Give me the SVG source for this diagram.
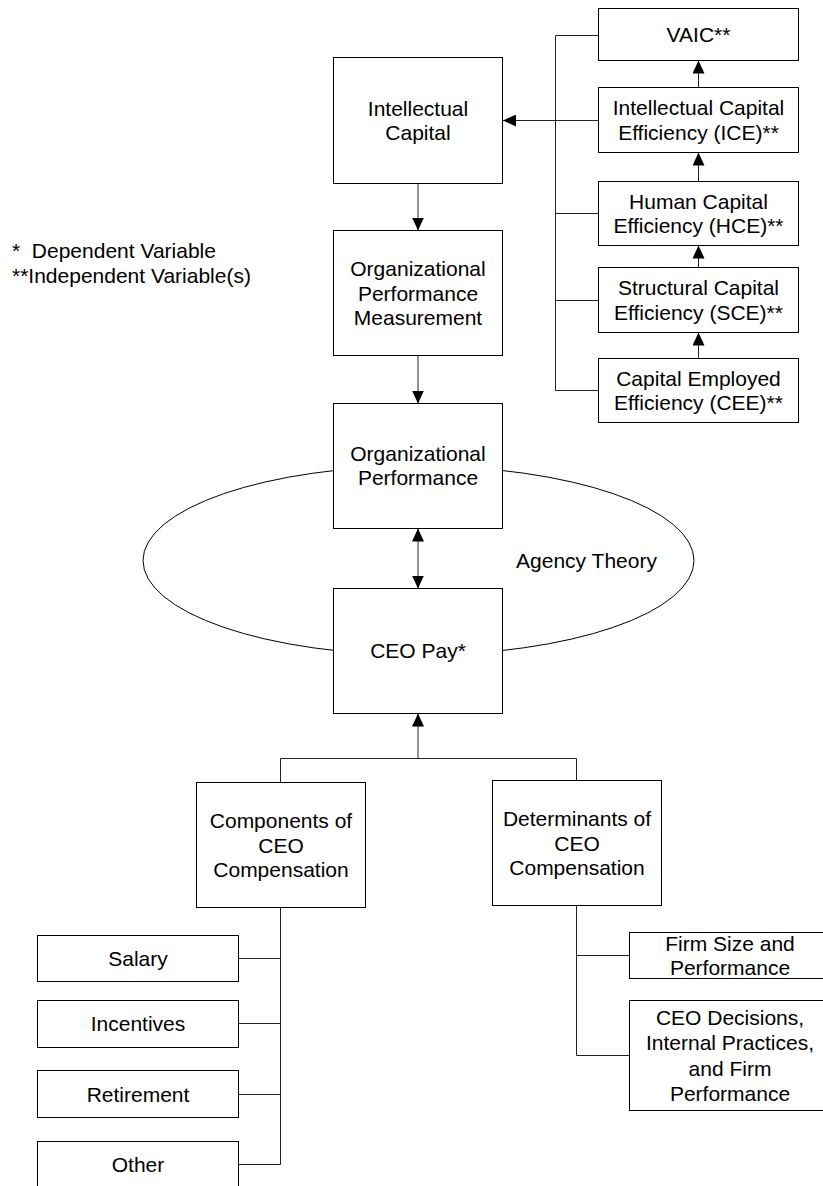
<svg xmlns="http://www.w3.org/2000/svg" width="823" height="1186" viewBox="0 0 823 1186">
<style>
.box{fill:#fff;stroke:#000;stroke-width:1}
.lbl{font-family:"Liberation Sans",Arial,sans-serif;font-size:21px;fill:#000;text-anchor:middle}
.leg{font-family:"Liberation Sans",Arial,sans-serif;font-size:21px;fill:#000;white-space:pre}
.conn{fill:none;stroke:#222;stroke-width:1}
</style>
<defs>
<marker id="arr" viewBox="0 0 13 12" refX="13" refY="6" markerWidth="13" markerHeight="12" markerUnits="userSpaceOnUse" orient="auto-start-reverse">
<path d="M0,0 L13,6 L0,12 z" fill="#000"/>
</marker>
</defs>
<rect width="823" height="1186" fill="#fff"/>

<g id="legend">
<text class="leg" x="12" y="258" xml:space="preserve">*  Dependent Variable</text>
<text class="leg" x="12" y="282.5">**Independent Variable(s)</text>
</g>

<g id="agency-theory">
<ellipse cx="418.5" cy="560.5" rx="275.5" ry="94.5" fill="none" stroke="#000" stroke-width="1"/>
<text class="lbl" x="586.5" y="567.5">Agency Theory</text>
</g>

<g id="connectors">
<path class="conn" d="M598.5,35.5 H555.5 V390.5 H598.5"/>
<path class="conn" d="M555.5,213.5 H598.5"/>
<path class="conn" d="M555.5,300.5 H598.5"/>
<path class="conn" d="M598.5,120.5 H503" marker-end="url(#arr)"/>
<path class="conn" d="M698.5,87.5 V60.5" marker-end="url(#arr)"/>
<path class="conn" d="M698.5,181.5 V152.5" marker-end="url(#arr)"/>
<path class="conn" d="M698.5,267.5 V245.5" marker-end="url(#arr)"/>
<path class="conn" d="M698.5,358.5 V332.5" marker-end="url(#arr)"/>
<path class="conn" d="M418,183.5 V230.5" marker-end="url(#arr)"/>
<path class="conn" d="M418,355.5 V403.5" marker-end="url(#arr)"/>
<path class="conn" d="M418,528.5 V588.5" marker-start="url(#arr)" marker-end="url(#arr)"/>
<path class="conn" d="M418,758.5 V713.5" marker-end="url(#arr)"/>
<path class="conn" d="M280.5,782.5 V758.5 H576.5 V780.5"/>
<path class="conn" d="M280.5,907.5 V1164.5"/>
<path class="conn" d="M238.5,958.5 H280.5"/>
<path class="conn" d="M238.5,1023.5 H280.5"/>
<path class="conn" d="M238.5,1094.5 H280.5"/>
<path class="conn" d="M238.5,1164.5 H280.5"/>
<path class="conn" d="M576.5,905.5 V1055.5 H629.5"/>
<path class="conn" d="M576.5,955.5 H629.5"/>
</g>

<g id="vaic">
<rect class="box" x="598.5" y="8.5" width="200" height="52"/>
<text class="lbl" x="698.5" y="42">VAIC**</text>
</g>
<g id="ice">
<rect class="box" x="598.5" y="87.5" width="200" height="65"/>
<text class="lbl" x="698.5" y="115">Intellectual Capital</text>
<text class="lbl" x="698.5" y="139.5">Efficiency (ICE)**</text>
</g>
<g id="hce">
<rect class="box" x="598.5" y="181.5" width="200" height="64"/>
<text class="lbl" x="698.5" y="208.5">Human Capital</text>
<text class="lbl" x="698.5" y="233">Efficiency (HCE)**</text>
</g>
<g id="sce">
<rect class="box" x="598.5" y="267.5" width="200" height="65"/>
<text class="lbl" x="698.5" y="295">Structural Capital</text>
<text class="lbl" x="698.5" y="319.5">Efficiency (SCE)**</text>
</g>
<g id="cee">
<rect class="box" x="598.5" y="358.5" width="200" height="64"/>
<text class="lbl" x="698.5" y="385.5">Capital Employed</text>
<text class="lbl" x="698.5" y="410">Efficiency (CEE)**</text>
</g>

<g id="intellectual-capital">
<rect class="box" x="333.5" y="57.5" width="169" height="126"/>
<text class="lbl" x="418" y="115.5">Intellectual</text>
<text class="lbl" x="418" y="140">Capital</text>
</g>
<g id="org-perf-measurement">
<rect class="box" x="333.5" y="230.5" width="169" height="125"/>
<text class="lbl" x="418" y="276.2">Organizational</text>
<text class="lbl" x="418" y="300.7">Performance</text>
<text class="lbl" x="418" y="325.2">Measurement</text>
</g>
<g id="org-performance">
<rect class="box" x="333.5" y="403.5" width="169" height="125"/>
<text class="lbl" x="418" y="460.7">Organizational</text>
<text class="lbl" x="418" y="485.2">Performance</text>
</g>
<g id="ceo-pay">
<rect class="box" x="333.5" y="588.5" width="169" height="125"/>
<text class="lbl" x="418" y="658.3">CEO Pay*</text>
</g>

<g id="components">
<rect class="box" x="196.5" y="782.5" width="169" height="125"/>
<text class="lbl" x="281" y="828.3">Components of</text>
<text class="lbl" x="281" y="852.8">CEO</text>
<text class="lbl" x="281" y="877.3">Compensation</text>
</g>
<g id="determinants">
<rect class="box" x="492.5" y="780.5" width="169" height="125"/>
<text class="lbl" x="577" y="826.2">Determinants of</text>
<text class="lbl" x="577" y="850.7">CEO</text>
<text class="lbl" x="577" y="875.2">Compensation</text>
</g>

<g id="salary">
<rect class="box" x="37.5" y="935.5" width="201" height="46"/>
<text class="lbl" x="138" y="966">Salary</text>
</g>
<g id="incentives">
<rect class="box" x="37.5" y="1000.5" width="201" height="47"/>
<text class="lbl" x="138" y="1031.3">Incentives</text>
</g>
<g id="retirement">
<rect class="box" x="37.5" y="1070.5" width="201" height="47"/>
<text class="lbl" x="138" y="1101.7">Retirement</text>
</g>
<g id="other">
<rect class="box" x="37.5" y="1141.5" width="201" height="47"/>
<text class="lbl" x="138" y="1172">Other</text>
</g>

<g id="firm-size">
<rect class="box" x="629.5" y="932.5" width="201" height="46"/>
<text class="lbl" x="730" y="950.9">Firm Size and</text>
<text class="lbl" x="730" y="975.4">Performance</text>
</g>
<g id="ceo-decisions">
<rect class="box" x="629.5" y="1000.5" width="201" height="110"/>
<text class="lbl" x="730" y="1024.9">CEO Decisions,</text>
<text class="lbl" x="730" y="1050.2">Internal Practices,</text>
<text class="lbl" x="730" y="1075.5">and Firm</text>
<text class="lbl" x="730" y="1100.8">Performance</text>
</g>
</svg>
